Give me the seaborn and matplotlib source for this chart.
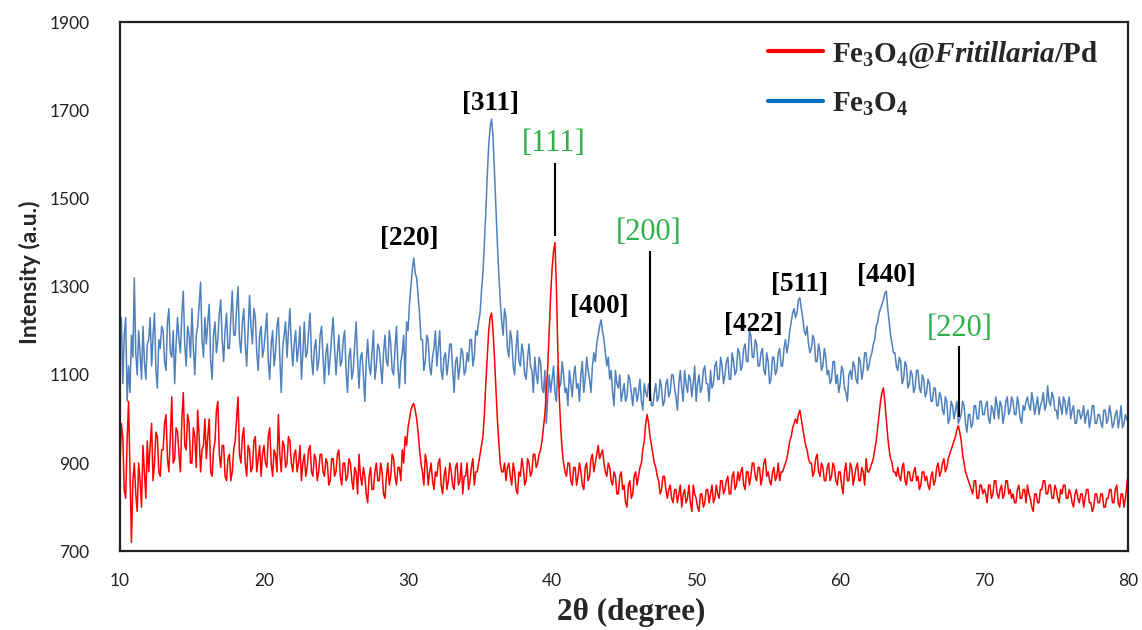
import numpy as np
import pandas as pd
import seaborn as sns
import matplotlib.pyplot as plt
from matplotlib.lines import Line2D

# scan grid: 10-80 deg, 0.1 deg step
two_theta = np.round(np.arange(10, 80.001, 0.1), 1)

# Fe3O4 (blue), 10 points per degree
fe3o4 = [
    1160, 1230, 1080, 1190, 1230, 1040, 1120, 1060, 1190, 1140,   # 10
    1320, 1150, 1100, 1200, 1150, 1090, 1210, 1130, 1090, 1170,   # 11
    1180, 1230, 1120, 1190, 1240, 1110, 1070, 1180, 1160, 1210,   # 12
    1200, 1130, 1110, 1220, 1250, 1150, 1140, 1200, 1080, 1170,   # 13
    1230, 1180, 1150, 1240, 1290, 1170, 1120, 1210, 1190, 1140,   # 14
    1250, 1160, 1100, 1190, 1210, 1260, 1310, 1180, 1140, 1230,   # 15
    1170, 1220, 1260, 1130, 1090, 1190, 1220, 1150, 1180, 1240,   # 16
    1270, 1180, 1130, 1200, 1240, 1160, 1160, 1230, 1290, 1190,   # 17
    1190, 1250, 1300, 1180, 1150, 1220, 1250, 1170, 1120, 1200,   # 18
    1280, 1210, 1170, 1250, 1230, 1150, 1110, 1190, 1210, 1140,   # 19
    1160, 1200, 1240, 1130, 1090, 1170, 1200, 1120, 1150, 1210,   # 20
    1230, 1140, 1060, 1160, 1190, 1220, 1140, 1200, 1250, 1170,   # 21
    1120, 1170, 1200, 1130, 1160, 1210, 1090, 1150, 1220, 1140,   # 22
    1150, 1200, 1240, 1140, 1100, 1160, 1180, 1110, 1130, 1190,   # 23
    1210, 1140, 1080, 1150, 1170, 1100, 1140, 1190, 1230, 1160,   # 24
    1100, 1150, 1190, 1120, 1130, 1180, 1200, 1110, 1060, 1140,   # 25
    1160, 1090, 1110, 1170, 1220, 1130, 1070, 1140, 1150, 1100,   # 26
    1040, 1130, 1180, 1120, 1100, 1150, 1200, 1090, 1120, 1170,   # 27
    1160, 1120, 1080, 1150, 1190, 1130, 1120, 1200, 1170, 1110,   # 28
    1100, 1160, 1210, 1120, 1070, 1130, 1150, 1190, 1080, 1220,   # 29
    1200, 1260, 1300, 1340, 1365, 1330, 1320, 1280, 1240, 1180,   # 30
    1180, 1110, 1130, 1190, 1180, 1120, 1100, 1140, 1160, 1200,   # 31
    1120, 1160, 1200, 1110, 1090, 1140, 1150, 1100, 1130, 1170,   # 32
    1170, 1110, 1060, 1130, 1140, 1090, 1120, 1160, 1150, 1100,   # 33
    1110, 1150, 1130, 1180, 1180, 1120, 1140, 1200, 1190, 1220,   # 34
    1240, 1290, 1330, 1400, 1470, 1550, 1620, 1660, 1680, 1640,   # 35
    1560, 1480, 1400, 1330, 1270, 1220, 1190, 1250, 1230, 1160,   # 36
    1140, 1200, 1180, 1120, 1100, 1160, 1200, 1130, 1120, 1170,   # 37
    1150, 1100, 1090, 1140, 1170, 1120, 1110, 1060, 1140, 1100,   # 38
    1080, 1140, 1130, 1070, 1060, 1110, 990, 1050, 1100, 1060,    # 39
    1090, 1120, 1060, 1040, 1120, 1070, 1080, 1130, 1100, 1060,   # 40
    1070, 1030, 1110, 1080, 1050, 1100, 1120, 1070, 1080, 1040,   # 41
    1100, 1130, 1060, 1090, 1140, 1110, 1090, 1060, 1120, 1150,   # 42
    1130, 1170, 1190, 1210, 1225, 1200, 1180, 1150, 1120, 1140,   # 43
    1090, 1110, 1060, 1030, 1110, 1080, 1070, 1100, 1040, 1060,   # 44
    1080, 1040, 1050, 1100, 1090, 1060, 1030, 1070, 1070, 1040,   # 45
    1060, 1090, 1040, 1020, 1080, 1060, 1050, 1080, 1070, 1030,   # 46
    1030, 1060, 1080, 1040, 1050, 1090, 1070, 1030, 1040, 1080,   # 47
    1090, 1050, 1060, 1100, 1100, 1070, 1050, 1020, 1080, 1110,   # 48
    1070, 1040, 1110, 1080, 1060, 1100, 1090, 1050, 1080, 1120,   # 49
    1040, 1080, 1100, 1060, 1070, 1110, 1120, 1080, 1080, 1040,   # 50
    1110, 1070, 1080, 1120, 1130, 1090, 1090, 1140, 1120, 1080,   # 51
    1100, 1130, 1140, 1090, 1090, 1150, 1130, 1100, 1110, 1160,   # 52
    1150, 1110, 1120, 1160, 1170, 1130, 1130, 1200, 1190, 1140,   # 53
    1140, 1180, 1170, 1120, 1120, 1150, 1160, 1110, 1100, 1150,   # 54
    1130, 1080, 1090, 1140, 1140, 1100, 1110, 1150, 1160, 1120,   # 55
    1120, 1160, 1180, 1150, 1170, 1200, 1220, 1240, 1250, 1230,   # 56
    1240, 1270, 1275, 1250, 1230, 1200, 1190, 1210, 1170, 1150,   # 57
    1160, 1190, 1180, 1130, 1130, 1170, 1150, 1110, 1120, 1160,   # 58
    1140, 1100, 1110, 1080, 1090, 1130, 1130, 1080, 1100, 1060,   # 59
    1080, 1120, 1110, 1070, 1060, 1040, 1100, 1110, 1090, 1130,   # 60
    1120, 1090, 1080, 1140, 1130, 1090, 1110, 1150, 1150, 1110,   # 61
    1120, 1140, 1150, 1170, 1180, 1210, 1220, 1240, 1250, 1260,   # 62
    1270, 1285, 1290, 1250, 1220, 1190, 1170, 1150, 1150, 1120,   # 63
    1110, 1140, 1130, 1080, 1090, 1130, 1120, 1070, 1080, 1110,   # 64
    1100, 1060, 1070, 1110, 1110, 1070, 1060, 1100, 1090, 1050,   # 65
    1060, 1090, 1080, 1040, 1040, 1070, 1070, 1030, 1030, 1060,   # 66
    1050, 1020, 1010, 1050, 1040, 990, 1000, 1040, 1030, 1000,    # 67
    1020, 1040, 990, 1000, 1010, 1040, 1030, 990, 970, 1010,      # 68
    1010, 980, 990, 1030, 1030, 1000, 1000, 1040, 1040, 1010,     # 69
    1010, 1030, 1040, 1000, 990, 1030, 1020, 1000, 1050, 1030,    # 70
    1000, 1040, 1030, 990, 1010, 1040, 1050, 1010, 1020, 1050,    # 71
    1040, 1010, 1010, 1050, 1030, 1000, 990, 1030, 1020, 1040,    # 72
    1050, 1030, 1020, 1060, 1040, 1010, 1030, 1050, 1010, 1030,   # 73
    1040, 1060, 1020, 1030, 1075, 1040, 1030, 1060, 1050, 1020,   # 74
    1020, 1000, 1050, 1030, 1010, 1050, 1040, 1010, 1030, 1050,   # 75
    1000, 1020, 1030, 990, 990, 1020, 1020, 1000, 1010, 1030,     # 76
    990, 1010, 1020, 980, 1000, 1030, 1030, 990, 990, 1010,       # 77
    1010, 990, 980, 1020, 1020, 990, 1000, 1030, 1010, 980,       # 78
    990, 1010, 1020, 980, 1000, 1030, 980, 990, 1010, 1000,       # 79
    990,                                                          # 80
]

# Fe3O4@Fritillaria/Pd (red)
fe3o4_pd = [
    880, 990, 960, 840, 820, 950, 1040, 880, 720, 860,            # 10
    900, 830, 790, 900, 860, 800, 940, 880, 820, 950,             # 11
    880, 940, 990, 860, 900, 970, 960, 880, 870, 930,             # 12
    930, 990, 1010, 910, 880, 960, 1050, 900, 910, 980,           # 13
    970, 920, 880, 1000, 1060, 940, 930, 1010, 990, 900,          # 14
    900, 980, 960, 890, 1020, 960, 880, 930, 940, 1000,           # 15
    910, 960, 1000, 880, 870, 930, 950, 1020, 1040, 920,          # 16
    890, 940, 940, 870, 860, 910, 920, 860, 880, 930,             # 17
    950, 1000, 1050, 920, 900, 960, 980, 900, 870, 940,           # 18
    930, 880, 890, 950, 960, 880, 910, 940, 870, 920,             # 19
    940, 900, 890, 960, 980, 900, 870, 930, 920, 880,             # 20
    1010, 920, 880, 950, 940, 890, 900, 960, 950, 900,            # 21
    880, 920, 930, 880, 900, 940, 860, 900, 920, 870,             # 22
    890, 930, 940, 880, 870, 920, 910, 860, 880, 920,             # 23
    920, 880, 870, 910, 900, 850, 860, 910, 910, 870,             # 24
    880, 920, 930, 870, 850, 900, 900, 860, 870, 910,             # 25
    900, 860, 840, 890, 880, 830, 920, 870, 850, 890,             # 26
    870, 830, 810, 870, 890, 840, 840, 880, 900, 860,             # 27
    860, 900, 880, 830, 820, 870, 900, 850, 870, 920,             # 28
    910, 870, 850, 890, 890, 860, 930, 900, 960, 940,             # 29
    980, 1000, 1020, 1030, 1035, 1020, 1000, 970, 930, 900,       # 30
    880, 850, 920, 900, 850, 880, 900, 860, 840, 880,             # 31
    870, 900, 910, 850, 830, 870, 890, 840, 860, 900,             # 32
    880, 850, 840, 890, 900, 850, 860, 900, 830, 870,             # 33
    870, 900, 840, 860, 890, 910, 850, 880, 880, 900,             # 34
    920, 940, 960, 1010, 1080, 1140, 1200, 1230, 1240, 1200,      # 35
    1140, 1070, 1000, 950, 900, 880, 880, 900, 860, 890,          # 36
    900, 870, 850, 900, 880, 840, 830, 880, 870, 910,             # 37
    890, 850, 860, 910, 900, 870, 880, 920, 920, 890,             # 38
    900, 920, 930, 950, 980, 1010, 1060, 1120, 1200, 1280,        # 39
    1340, 1380, 1400, 1300, 1150, 1050, 980, 930, 900, 880,       # 40
    870, 900, 900, 860, 850, 890, 890, 850, 870, 900,             # 41
    880, 850, 840, 890, 900, 860, 870, 910, 920, 880,             # 42
    900, 920, 940, 910, 920, 930, 900, 880, 870, 900,             # 43
    890, 860, 850, 880, 870, 830, 830, 870, 880, 840,             # 44
    850, 810, 800, 850, 860, 820, 830, 870, 880, 850,             # 45
    870, 890, 900, 930, 950, 990, 1010, 990, 960, 940,            # 46
    920, 900, 890, 870, 860, 830, 840, 870, 870, 840,             # 47
    820, 840, 850, 820, 810, 840, 840, 810, 830, 850,             # 48
    800, 830, 840, 810, 820, 850, 810, 790, 850, 830,             # 49
    820, 800, 790, 830, 830, 800, 810, 840, 840, 810,             # 50
    830, 850, 810, 820, 850, 830, 820, 860, 860, 830,             # 51
    840, 860, 870, 830, 830, 870, 880, 840, 850, 880,             # 52
    860, 880, 890, 850, 840, 880, 880, 850, 870, 900,             # 53
    900, 870, 860, 890, 890, 850, 870, 900, 910, 870,             # 54
    880, 860, 850, 880, 890, 860, 870, 900, 860, 880,             # 55
    880, 890, 900, 910, 930, 950, 960, 980, 990, 1000,            # 56
    990, 1010, 1020, 1000, 980, 960, 940, 930, 910, 900,          # 57
    900, 870, 880, 910, 920, 880, 870, 900, 890, 860,             # 58
    860, 890, 900, 860, 870, 900, 890, 860, 850, 880,             # 59
    880, 850, 830, 880, 900, 860, 860, 900, 890, 850,             # 60
    870, 890, 900, 860, 860, 890, 880, 850, 910, 880,             # 61
    880, 890, 900, 910, 930, 950, 980, 1010, 1040, 1060,          # 62
    1070, 1040, 1000, 960, 930, 910, 900, 880, 880, 870,          # 63
    890, 870, 860, 890, 900, 860, 850, 880, 880, 860,             # 64
    860, 880, 890, 860, 870, 840, 850, 880, 880, 860,             # 65
    870, 850, 840, 870, 880, 850, 860, 890, 900, 870,             # 66
    880, 900, 910, 880, 890, 910, 920, 930, 940, 950,             # 67
    960, 975, 985, 970, 950, 920, 900, 880, 870, 860,             # 68
    850, 840, 830, 860, 860, 820, 820, 850, 850, 830,             # 69
    840, 830, 810, 850, 850, 820, 830, 860, 860, 830,             # 70
    820, 840, 850, 820, 830, 860, 860, 830, 840, 820,             # 71
    830, 810, 810, 840, 850, 820, 820, 840, 840, 810,             # 72
    850, 830, 820, 800, 790, 830, 830, 810, 810, 840,             # 73
    840, 860, 860, 830, 830, 850, 850, 820, 820, 850,             # 74
    840, 820, 810, 840, 830, 850, 850, 820, 820, 840,             # 75
    830, 810, 800, 830, 840, 820, 810, 830, 830, 800,             # 76
    820, 840, 840, 810, 810, 790, 800, 830, 830, 810,             # 77
    810, 830, 830, 800, 800, 820, 820, 840, 840, 810,             # 78
    810, 840, 850, 810, 800, 830, 830, 800, 820, 850,             # 79
    880,                                                          # 80
]

# peak labels (Fe3O4 in black, Pd in green with a marker line)
fe_labels = ['[220]', '[311]', '[400]', '[422]', '[511]', '[440]']
fe_label_x = [30.1, 35.7, 43.3, 54.0, 57.2, 63.2]
fe_label_y = [1410, 1715, 1255, 1215, 1305, 1325]

pd_labels = ['[111]', '[200]', '[220]']
pd_label_x = [40.1, 46.7, 68.3]
pd_label_y = [1625, 1422, 1205]
pd_line_x = [40.2, 46.8, 68.25]
pd_line_top = [1580, 1380, 1165]
pd_line_bottom = [1415, 1040, 1005]

red = '#ff0000'
blue = '#4f81bd'
blue_legend = '#0070c0'
green = '#2fb04a'

sns.set_theme(style='white')
plt.rcParams['font.family'] = ['Lato', 'DejaVu Sans']
plt.rcParams['mathtext.fontset'] = 'custom'
plt.rcParams['mathtext.rm'] = 'Liberation Serif:bold'
plt.rcParams['mathtext.bf'] = 'Liberation Serif:bold'
plt.rcParams['mathtext.it'] = 'Liberation Serif:italic:bold'

df = pd.DataFrame({'two_theta': two_theta, 'fe3o4': fe3o4, 'fe3o4_pd': fe3o4_pd})

fig = plt.figure(figsize=(11.42, 6.30), dpi=100)
ax = fig.add_axes([0.105, 0.125, 0.883, 0.84])

sns.lineplot(data=df, x='two_theta', y='fe3o4', color=blue, lw=1.1, estimator=None, ax=ax)
sns.lineplot(data=df, x='two_theta', y='fe3o4_pd', color=red, lw=1.1, estimator=None, ax=ax)

ax.set_xlim(10, 80)
ax.set_ylim(700, 1900)
ax.set_xticks(range(10, 81, 10))
ax.set_yticks(range(700, 1901, 200))
ax.tick_params(length=0, labelsize=12.5, colors='#222222')
ax.tick_params(axis='y', pad=22)
ax.tick_params(axis='x', pad=16)
for s in ax.spines.values():
    s.set_color('#222222')
    s.set_linewidth(1.6)

ax.set_xlabel('2θ (degree)', family='Liberation Serif', fontweight='bold', fontsize=22.5)
ax.set_ylabel('Intensity (a.u.)', fontweight='bold', fontsize=16.5)
ax.xaxis.set_label_coords(0.507, -0.088)
ax.yaxis.set_label_coords(-0.078, 0.527)

for lab, x, y in zip(fe_labels, fe_label_x, fe_label_y):
    ax.text(x, y, lab, ha='center', va='center', family='Liberation Serif',
            fontweight='bold', fontsize=19.5, color='black')
for lab, x, y in zip(pd_labels, pd_label_x, pd_label_y):
    ax.text(x, y, lab, ha='center', va='center', family='Liberation Serif',
            fontsize=22, color=green)
ax.vlines(pd_line_x, pd_line_bottom, pd_line_top, color='black', lw=1.5)

handles = [Line2D([], [], color=red, lw=3), Line2D([], [], color=blue_legend, lw=3)]
labels = [r'$\mathrm{Fe_{3}O_{4}@}\mathit{Fritillaria}\mathrm{/Pd}$', r'$\mathrm{Fe_{3}O_{4}}$']
ax.legend(handles, labels, loc='upper right', bbox_to_anchor=(0.97, 0.968), frameon=False,
          borderpad=0, borderaxespad=0, fontsize=21, handlelength=1.9, labelspacing=0.72,
          handletextpad=0.3)

fig.savefig('out.png', dpi=100)
